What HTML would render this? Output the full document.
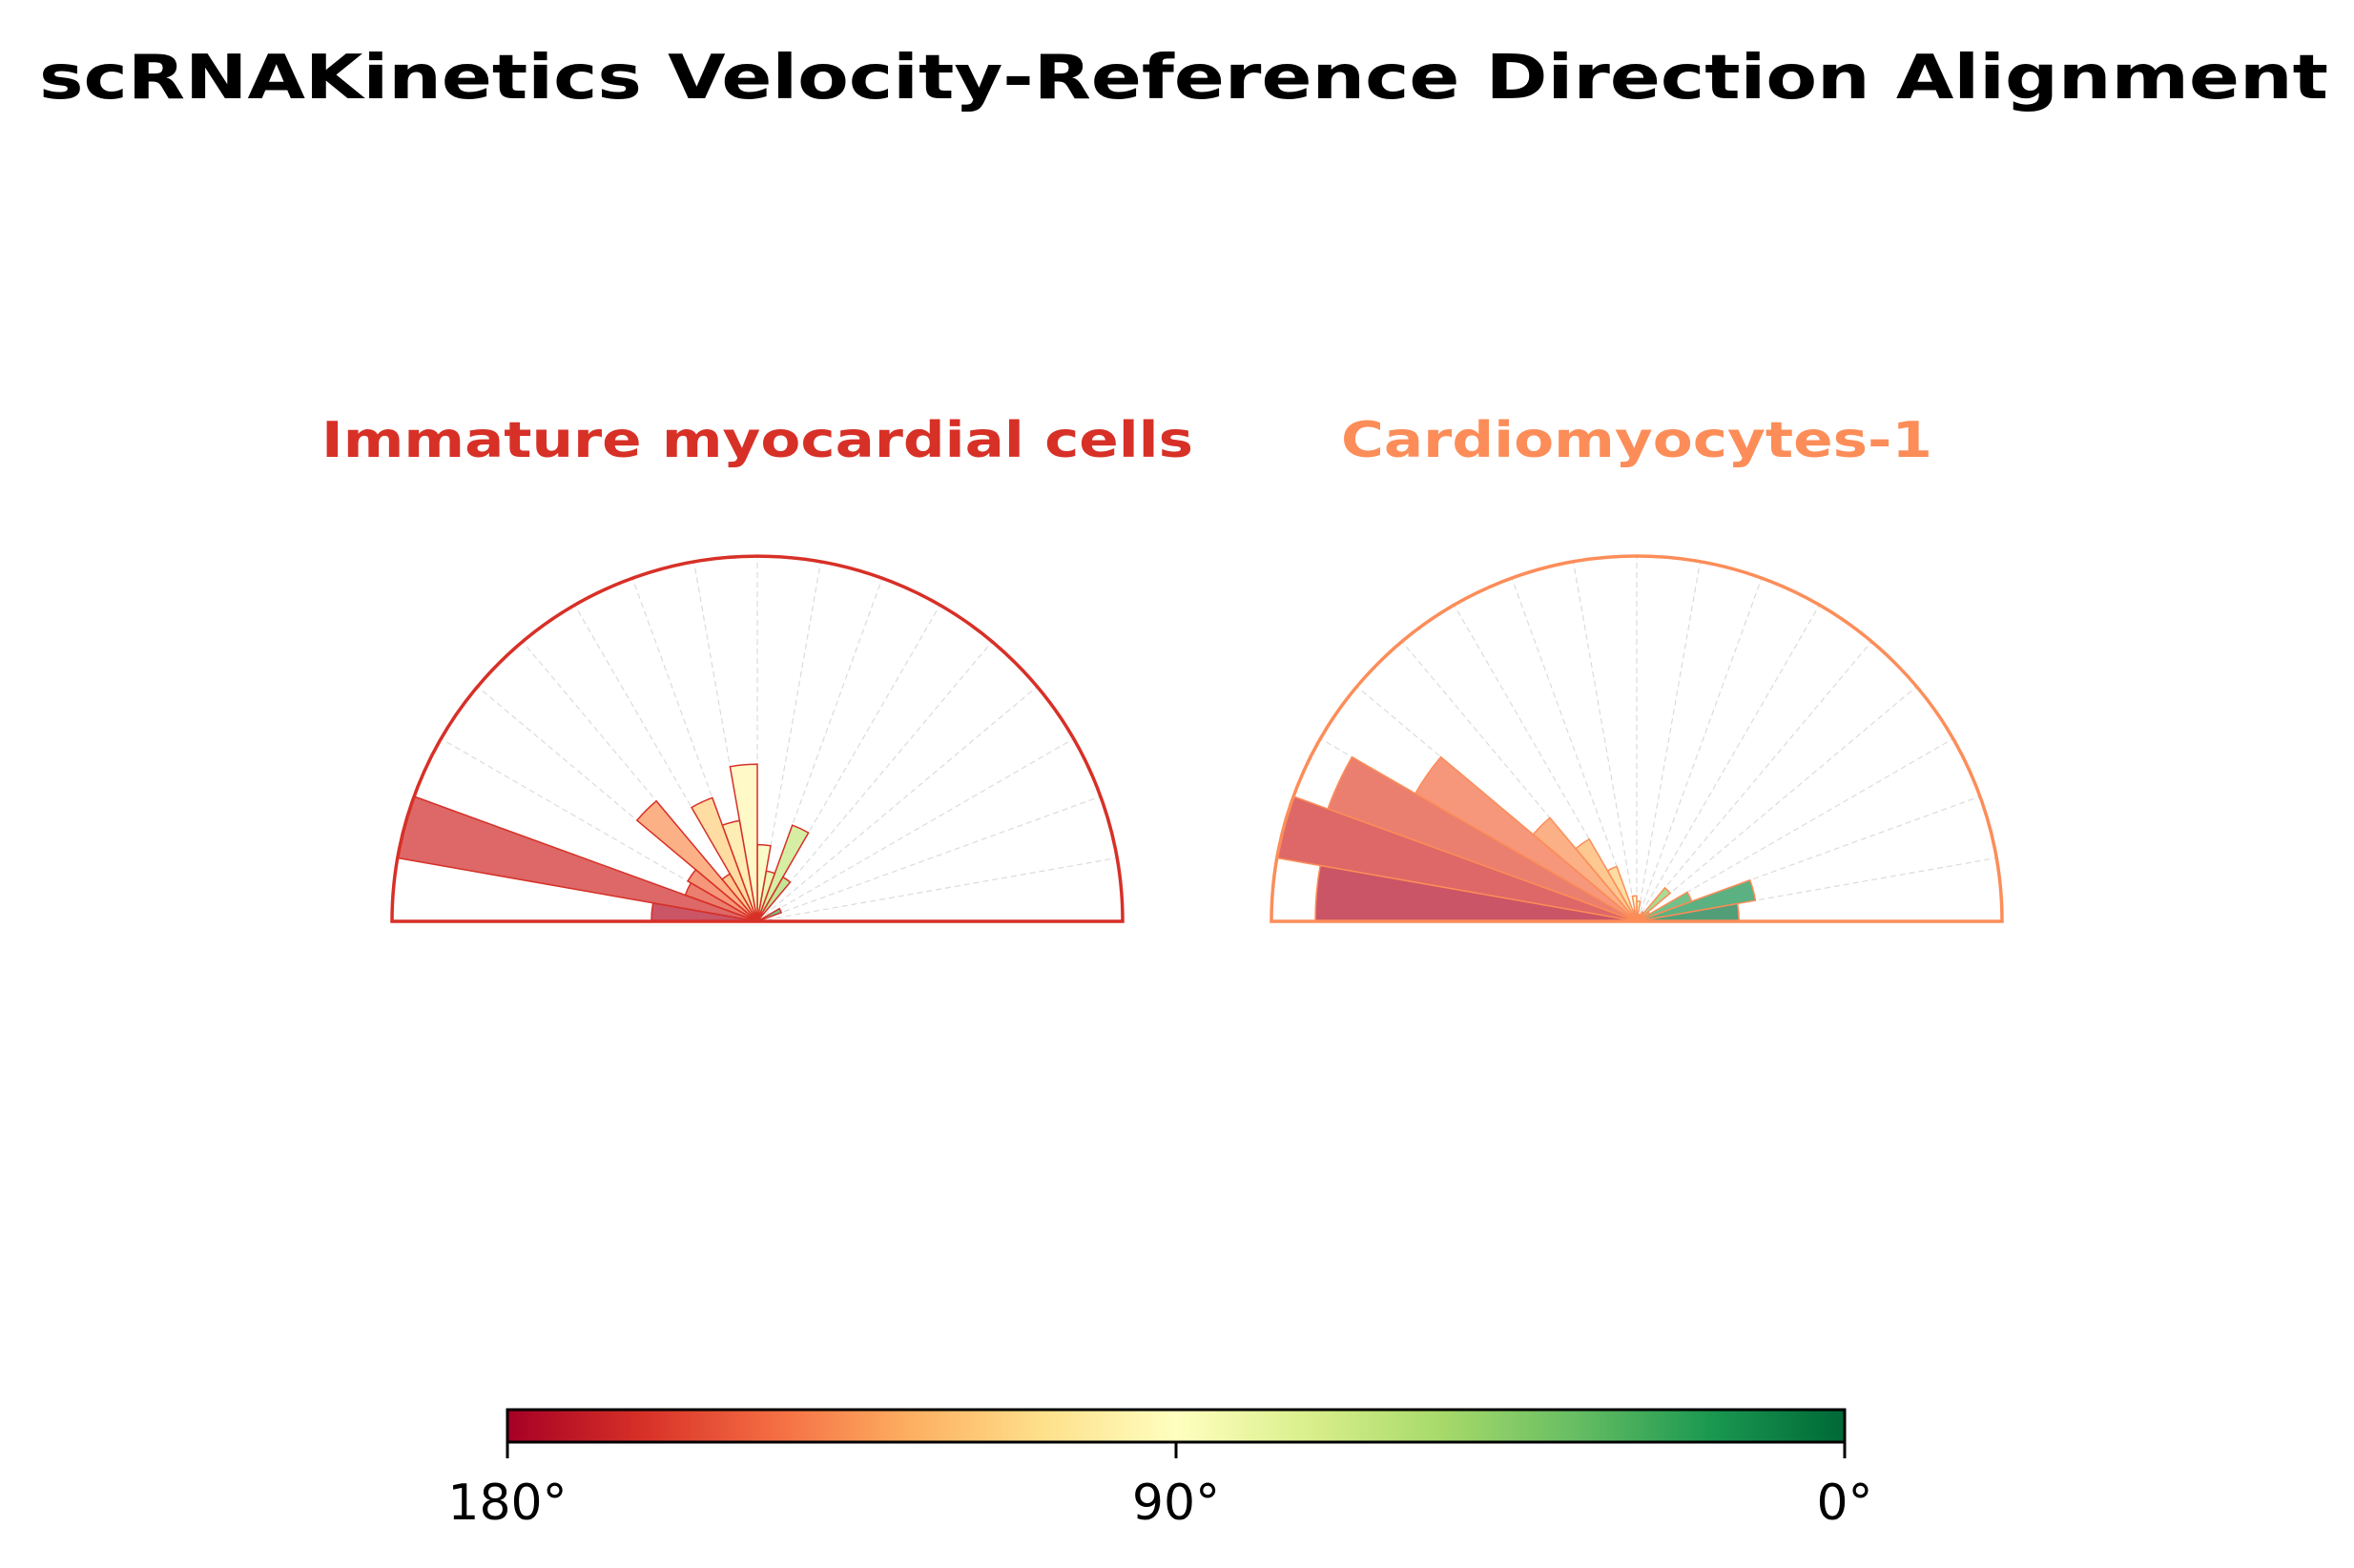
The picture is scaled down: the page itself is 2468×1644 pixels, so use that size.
<!DOCTYPE html>
<html><head><meta charset="utf-8"><style>
html,body{margin:0;padding:0;background:#fff;}
svg{display:block;font-family:"DejaVu Sans","Liberation Sans",sans-serif;}
</style></head><body>
<svg id="chart" width="2468" height="1644" viewBox="0 0 2468 1644" xmlns="http://www.w3.org/2000/svg">
<defs>
<linearGradient id="cmap" x1="0" x2="1" y1="0" y2="0">
<stop offset="0" stop-color="#a50026"/><stop offset="0.1" stop-color="#d73027"/><stop offset="0.2" stop-color="#f46d43"/><stop offset="0.3" stop-color="#fdae61"/><stop offset="0.4" stop-color="#fee08b"/><stop offset="0.5" stop-color="#ffffbf"/><stop offset="0.6" stop-color="#d9ef8b"/><stop offset="0.7" stop-color="#a6d96a"/><stop offset="0.8" stop-color="#66bd63"/><stop offset="0.9" stop-color="#1a9850"/><stop offset="1" stop-color="#006837"/>
</linearGradient>
</defs>
<text x="1241" y="103" text-anchor="middle" font-size="64" font-weight="bold" textLength="2400" lengthAdjust="spacingAndGlyphs">scRNAKinetics Velocity-Reference Direction Alignment</text>
<g id="panels"></g>
<rect x="532" y="1478" width="1402" height="34" fill="url(#cmap)" stroke="#000" stroke-width="3"/>
<g id="cbar-ticks"></g>
</svg>
<script>
const binStarts = [0,10,20,30,40,50,60,70,80,90,100,110,120,130,140,150,160,170];
const panelTitles = ["Immature myocardial cells", "Cardiomyocytes-1"];
const panelColors = ["#d73027", "#fc8d59"];
const immatureValues = [0,0,0.07,0,0,0.14,0.28,0.14,0.21,0.43,0.28,0.36,0.15,0.43,0.22,0.21,1.0,0.29];
const cardioValues = [0.28,0.33,0.16,0.04,0.12,0.03,0.02,0.02,0.055,0.07,0.03,0.16,0.26,0.37,0.70,0.90,1.0,0.88];
const cbarTicks = [180, 90, 0];
const cbarLabels = ["180°", "90°", "0°"];

const stops = ["#a50026","#d73027","#f46d43","#fdae61","#fee08b","#ffffbf","#d9ef8b","#a6d96a","#66bd63","#1a9850","#006837"];
function hex(c){return [parseInt(c.slice(1,3),16),parseInt(c.slice(3,5),16),parseInt(c.slice(5,7),16)];}
function cmap(t){
  t=Math.max(0,Math.min(1,t));const p=t*10,i=Math.min(9,Math.floor(p)),f=p-i;
  const a=hex(stops[i]),b=hex(stops[i+1]);
  return "rgb("+a.map((v,k)=>Math.round(v+(b[k]-v)*f)).join(",")+")";
}
const NS="http://www.w3.org/2000/svg";
const panelsG=document.getElementById("panels");
const R=383, CY=966;
const centers=[794,1716];
const seriesList=[immatureValues,cardioValues];
function pt(cx,r,deg){const a=deg*Math.PI/180;return [cx+r*Math.cos(a),CY-r*Math.sin(a)];}
for(let p=0;p<2;p++){
  const cx=centers[p], col=panelColors[p], vals=seriesList[p];
  const g=document.createElementNS(NS,"g");
  
  
  panelsG.appendChild(g);
  const t=document.createElementNS(NS,"text");
  t.setAttribute("x",cx);t.setAttribute("y",479);t.setAttribute("text-anchor","middle");
  t.setAttribute("font-size","52");t.setAttribute("font-weight","bold");t.setAttribute("fill",col);
  t.setAttribute("textLength",p===0?"914":"620");t.setAttribute("lengthAdjust","spacingAndGlyphs");
  t.textContent=panelTitles[p];
  
  
  g.appendChild(t);
  for(let d=10;d<180;d+=10){
    const [x,y]=pt(cx,R,d);
    const l=document.createElementNS(NS,"line");
    l.setAttribute("x1",cx);l.setAttribute("y1",CY);l.setAttribute("x2",x);l.setAttribute("y2",y);
    l.setAttribute("stroke","#cccccc");l.setAttribute("stroke-width","1.2");l.setAttribute("stroke-dasharray","6 4");l.setAttribute("opacity","0.7");
    
    
    g.appendChild(l);
  }
  for(let i=0;i<binStarts.length;i++){
    const r=vals[i]*R; if(r<=0) continue;
    const a0=binStarts[i], a1=a0+10;
    const [x0,y0]=pt(cx,r,a0),[x1,y1]=pt(cx,r,a1);
    const path=document.createElementNS(NS,"path");
    path.setAttribute("d",`M${cx},${CY} L${x0},${y0} A${r},${r} 0 0 0 ${x1},${y1} Z`);
    path.setAttribute("fill",cmap(1-(a0+5)/180));path.setAttribute("fill-opacity","0.7");
    path.setAttribute("stroke",col);path.setAttribute("stroke-width","1.5");
    
    
    g.appendChild(path);
  }
  const b=document.createElementNS(NS,"path");
  b.setAttribute("d",`M${cx-R},${CY} A${R},${R} 0 0 1 ${cx+R},${CY} Z`);
  b.setAttribute("fill","none");b.setAttribute("stroke",col);b.setAttribute("stroke-width","3.5");
  
  
  g.appendChild(b);
}
const tg=document.getElementById("cbar-ticks");
for(let i=0;i<cbarTicks.length;i++){
  const x=532+(180-cbarTicks[i])/180*1402;
  const l=document.createElementNS(NS,"line");
  l.setAttribute("x1",x);l.setAttribute("x2",x);l.setAttribute("y1",1512);l.setAttribute("y2",1529);
  l.setAttribute("stroke","#000");l.setAttribute("stroke-width","3");
  
  
  tg.appendChild(l);
  const t=document.createElementNS(NS,"text");
  t.setAttribute("x",x);t.setAttribute("y",1593);t.setAttribute("text-anchor","middle");t.setAttribute("font-size","52");
  t.textContent=cbarLabels[i];
  
  
  tg.appendChild(t);
}
</script>
</body></html>
